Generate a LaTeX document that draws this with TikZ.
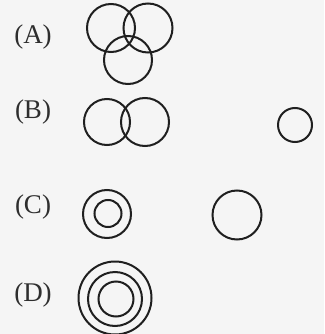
\documentclass[tikz,border=0pt]{standalone}
\usepackage{fontspec}
\setmainfont{Liberation Serif}
\begin{document}
\begin{tikzpicture}[x=1pt,y=-1pt,
  ring/.style={draw=black!88,line width=2pt},
  lab/.style={text=black!82,font=\fontsize{27}{30}\selectfont,inner sep=0pt,anchor=center}]
\fill[black!4] (0,0) rectangle (324,334);
\useasboundingbox (0,0) rectangle (324,334);
% labels
\node[lab] (la) at (33,37.5) {(A)};
\node[lab] (lb) at (33,112) {(B)};
\node[lab] (lc) at (33,207.5) {(C)};
\node[lab] (ld) at (33,295.5) {(D)};
% (A)
\draw[ring] (111,28) circle (24);
\draw[ring] (148,28) circle (24.5);
\draw[ring] (128,60) circle (24);
% (B)
\draw[ring] (107,122) circle (23);
\draw[ring] (145,122) circle (24);
\draw[ring] (295,125) circle (17);
% (C)
\draw[ring] (107,214) circle (24);
\draw[ring] (108,213.5) circle (13.5);
\draw[ring] (237,215) circle (24.5);
% (D)
\draw[ring] (115,298) circle (36.5);
\draw[ring] (115,299) circle (27);
\draw[ring] (116,299) circle (17.5);
\end{tikzpicture}
\end{document}
